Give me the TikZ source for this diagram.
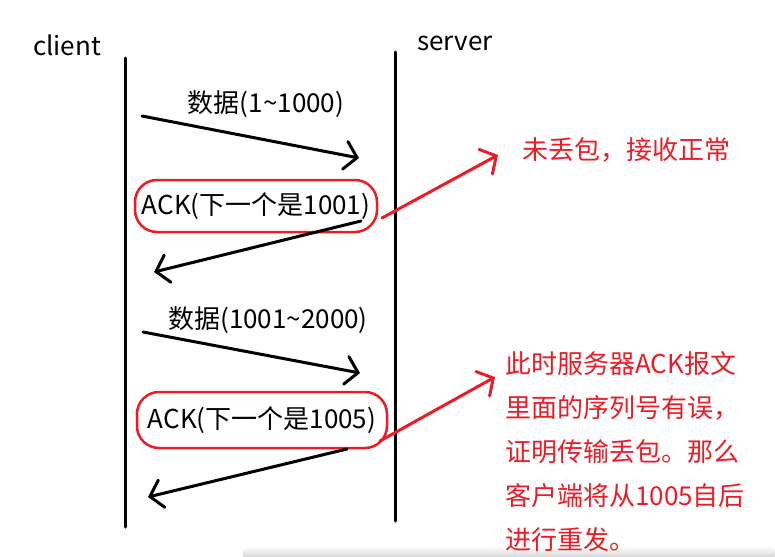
\documentclass[tikz,border=0pt]{standalone}
\usepackage{fontspec}
\setmainfont{Noto Sans CJK SC}
\usetikzlibrary{arrows.meta}
\definecolor{myred}{RGB}{237,28,36}
\tikzset{
  lbl/.style={font=\fontsize{26}{30}\selectfont, inner sep=0pt, text=black},
  rlbl/.style={font=\fontsize{26}{44}\selectfont, inner sep=0pt, text=myred, align=left},
  life/.style={line width=3pt, line cap=round},
  msg/.style={line width=3pt, line cap=round, -{Straight Barb[length=12pt,width=28pt,line cap=round]}},
  rmsg/.style={draw=myred, line width=3pt, line cap=round, -{Straight Barb[length=12pt,width=28pt,line cap=round]}},
  ackbox/.style={draw=myred, line width=2.5pt, rounded corners=22pt, font=\fontsize{26}{30}\selectfont, inner sep=0pt}
}
\begin{document}
\begin{tikzpicture}[x=1pt,y=-1pt]
\useasboundingbox (0,0) rectangle (775,556);
\shade[top color=white, bottom color=black!20, rounded corners=4pt] (243,546) rectangle (775,560);

% headers
\node[lbl, anchor=west] (client) at (33,45) {client};
\node[lbl, anchor=west] (server) at (417,43) {server};

% lifelines
\coordinate (ctop) at (125,58);
\coordinate (cbot) at (125,527);
\coordinate (stop) at (395,52);
\coordinate (sbot) at (395,521);
\draw[life] (ctop) -- (cbot);
\draw[life] (stop) -- (sbot);

% message 1
\coordinate (m1a) at (142,116);
\coordinate (m1b) at (359,158);
\draw[msg] (m1a) -- (m1b);
\node[lbl] (l1) at (266,104) {数据(1\textasciitilde1000)};

% ack 1
\node[ackbox, minimum width=242pt, minimum height=52pt] (ack1) at (256,206) {ACK(下一个是1001)};
\coordinate (m2a) at (361,221);
\coordinate (m2b) at (154,272);
\draw[msg] (m2a) -- (m2b);

% red note 1
\coordinate (r1a) at (382,218);
\coordinate (r1b) at (498,155);
\draw[rmsg] (r1a) -- (r1b);
\node[rlbl, anchor=west] (n1) at (522,150) {未丢包，接收正常};

% message 3
\coordinate (m3a) at (143,332);
\coordinate (m3b) at (360,373);
\draw[msg] (m3a) -- (m3b);
\node[lbl] (l3) at (268,320) {数据(1001\textasciitilde2000)};

% ack 2
\node[ackbox, minimum width=250pt, minimum height=56pt] (ack2) at (262,420) {ACK(下一个是1005)};
\coordinate (m4a) at (347,449);
\coordinate (m4b) at (148,497);
\draw[msg] (m4a) -- (m4b);

% red note 2
\coordinate (r2a) at (380,441);
\coordinate (r2b) at (495,377);
\draw[rmsg] (r2a) -- (r2b);
\node[rlbl, anchor=west] (n2) at (505,452) {此时服务器ACK报文\\里面的序列号有误，\\证明传输丢包。那么\\客户端将从1005自后\\进行重发。};
\end{tikzpicture}
\end{document}
